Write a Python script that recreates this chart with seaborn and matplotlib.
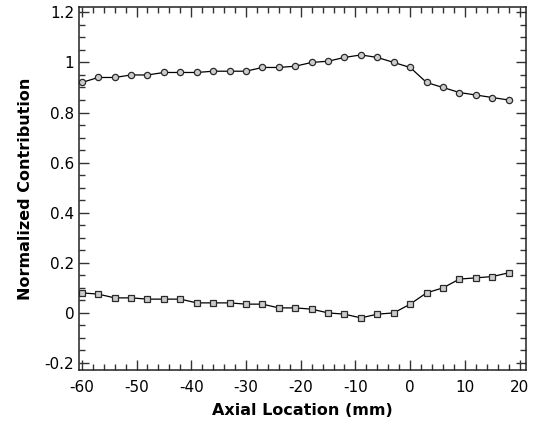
import numpy as np
import pandas as pd
import matplotlib
matplotlib.use("Agg")
import matplotlib.pyplot as plt
from matplotlib.ticker import MultipleLocator
import seaborn as sns

# posicoes axiais (mm) e contribuicoes normalizadas
axial_mm = [-60, -57, -54, -51, -48, -45, -42, -39, -36, -33, -30, -27, -24, -21,
            -18, -15, -12, -9, -6, -3, 0, 3, 6, 9, 12, 15, 18]
circle_vals = [0.92, 0.94, 0.94, 0.95, 0.95, 0.96, 0.96, 0.96, 0.965, 0.965, 0.965,
               0.98, 0.98, 0.985, 1.0, 1.005, 1.02, 1.03, 1.02, 1.0, 0.98, 0.92,
               0.90, 0.88, 0.87, 0.86, 0.85]
square_vals = [0.08, 0.075, 0.06, 0.06, 0.055, 0.055, 0.055, 0.04, 0.04, 0.04, 0.035,
               0.035, 0.02, 0.02, 0.015, 0.0, -0.005, -0.02, -0.005, 0.0, 0.035, 0.08,
               0.10, 0.135, 0.14, 0.145, 0.16]

df = pd.DataFrame({'x': axial_mm, 'circ': circle_vals, 'sq': square_vals})

sns.set_style("ticks")
plt.rcParams['font.family'] = ['DejaVu Sans']

fig = plt.figure(figsize=(5.38, 4.28), dpi=100)
ax = fig.add_axes([0.147, 0.1355, 0.831, 0.8485])

sns.lineplot(data=df, x='x', y='circ', ax=ax, color='black', linewidth=0.9,
             marker='o', markersize=4.5, markerfacecolor='#cccccc',
             markeredgecolor='#2a2a2a', markeredgewidth=0.9)
sns.lineplot(data=df, x='x', y='sq', ax=ax, color='black', linewidth=0.9,
             marker='s', markersize=4.2, markerfacecolor='#cccccc',
             markeredgecolor='#2a2a2a', markeredgewidth=0.9)

ax.set_xlim(-60.5, 21.2)
ax.set_ylim(-0.228, 1.222)
ax.xaxis.set_minor_locator(MultipleLocator(2))
ax.yaxis.set_minor_locator(MultipleLocator(0.05))
ax.set_xticks(np.arange(-60, 21, 10))
ax.set_xticklabels([str(v) for v in range(-60, 21, 10)])
ax.set_yticks([-0.2, 0, 0.2, 0.4, 0.6, 0.8, 1.0, 1.2])
ax.set_yticklabels(['-0.2', '0', '0.2', '0.4', '0.6', '0.8', '1', '1.2'])

ax.tick_params(which='both', direction='in', top=True, right=True, labelsize=11,
               color='#333333', labelcolor='black')
ax.tick_params(axis='x', which='major', pad=7)
ax.tick_params(which='major', length=7, width=1)
ax.tick_params(which='minor', length=4, width=1)
for s in ax.spines.values():
    s.set_linewidth(1.1)
    s.set_color('#222222')

ax.set_xlabel('Axial Location (mm)', fontsize=11.5, fontweight='bold', color='black', labelpad=6)
ax.set_ylabel('Normalized Contribution', fontsize=11.5, fontweight='bold', color='black', labelpad=8)

fig.savefig('out.png', dpi=100)
